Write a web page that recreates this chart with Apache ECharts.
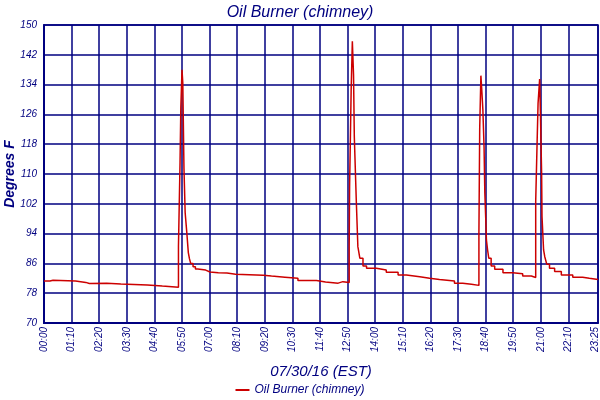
<!DOCTYPE html>
<html>
<head>
<meta charset="utf-8">
<script src="https://cdn.jsdelivr.net/npm/echarts@6/dist/echarts.min.js"></script>
<style>
html,body{margin:0;padding:0;background:#fff;}
#chart{width:600px;height:400px;}
</style>
</head>
<body>
<div id="chart"></div>
<script>
// time in minutes after midnight
var times = [0,15,23,80,106,115,159,195,262,300,341,345,347,350,352,355,358,362,366,369,372,378,384,390,410,421,442,464,486,556,577,611,644,691,714,746,758,
  774,775,779,782,785,787,792,796,801,809,818,843,868,898,919,953,978,1003,1041,1062,1084,
  1103,1105,1108,1110,1113,1116,1118,1121,1122,1125,1128,1134,1143,1164,1189,1214,1236,
  1247,1250,1253,1257,1259,1262,1263,1267,1270,1275,1282,1295,1312,1341,1366,1383,1405];
var temps = [81.3,81.5,81.3,80.9,80.6,80.7,80.5,80.2,79.9,79.6,90.7,113,127.7,138,134.5,111.4,99.6,94.5,88.9,87.2,86,85.1,84.5,84.2,83.7,83.5,83.4,83.1,82.8,82.6,82.3,82.0,81.4,81.0,80.7,81.1,80.9,
  90.5,106.6,132.6,145.6,136.7,120,102.8,90.5,87.4,85.3,84.7,84.2,83.6,82.9,82.4,82.0,81.7,81.3,80.7,80.4,80.1,
  94.1,122.3,136.4,133,127.3,117.4,104.9,95.9,92.3,89.6,87.4,85.3,84.4,83.5,83.2,82.6,82.2,
  102.6,116,129,135.5,126.4,110.2,98.6,89.6,87.8,85.8,84.7,83.8,82.9,82.3,82.0,81.7,81.7];
var xTickValues = [0,70,140,210,280,350,420,490,560,630,700,770,840,910,980,1050,1120,1190,1260,1330,1405];
var xTickLabels = ['00:00','01:10','02:20','03:30','04:40','05:50','07:00','08:10','09:20','10:30','11:40','12:50','14:00','15:10','16:20','17:30','18:40','19:50','21:00','22:10','23:25'];
var yTicks = [70,78,86,94,102,110,118,126,134,142,150];
var seriesName = 'Oil Burner (chimney)';

var navy = '#000080';
var fontFam = '"Liberation Sans", "DejaVu Sans", sans-serif';
var data = times.map(function(t,i){return [t,temps[i]];});

var chart = echarts.init(document.getElementById('chart'), null, {renderer:'canvas'});
chart.setOption({
  animation:false,
  backgroundColor:'#ffffff',
  title:{
    text:'Oil Burner (chimney)', left:'center', top:0,
    textStyle:{color:navy, fontStyle:'italic', fontWeight:'normal', fontSize:16, fontFamily:fontFam}
  },
  legend:{
    data:[seriesName], bottom:-1, left:'center',
    icon:'rect', itemWidth:14, itemHeight:2,
    textStyle:{color:navy, fontStyle:'italic', fontSize:12, fontFamily:fontFam}
  },
  grid:{left:44, right:2, top:25, bottom:77, containLabel:false, outerBoundsMode:'none',
    show:true, borderColor:navy, borderWidth:1.5},
  xAxis:{
    type:'value', min:0, max:1405,
    name:'07/30/16 (EST)', nameLocation:'middle', nameGap:41, nameMoveOverlap:false,
    nameTextStyle:{color:navy, fontStyle:'italic', fontSize:15, fontFamily:fontFam},
    axisLine:{show:true, lineStyle:{color:navy, width:2}},
    axisTick:{show:false, customValues:xTickValues},
    axisLabel:{
      customValues:xTickValues, rotate:90, color:navy, fontStyle:'italic', fontSize:10, fontFamily:fontFam, margin:4,
      formatter:function(v){
        var i=xTickValues.indexOf(v);
        if(i<0) return '';
        return i===xTickValues.length-1 ? '{last|'+xTickLabels[i]+'}' : xTickLabels[i];
      },
      rich:{last:{color:navy, fontStyle:'italic', fontSize:10, fontFamily:fontFam, padding:[0,0,5,0]}}
    },
    splitLine:{show:true, lineStyle:{color:navy, width:1.5}}
  },
  yAxis:{
    type:'value', min:yTicks[0], max:yTicks[yTicks.length-1], interval:8,
    name:'Degrees F', nameLocation:'middle', nameGap:27, nameRotate:90, nameMoveOverlap:false,
    nameTextStyle:{color:navy, fontStyle:'italic', fontWeight:'bold', fontSize:14, fontFamily:fontFam},
    axisLine:{show:true, lineStyle:{color:navy, width:2}},
    axisTick:{show:false},
    axisLabel:{color:navy, fontStyle:'italic', fontSize:10, fontFamily:fontFam, margin:7},
    splitLine:{show:true, lineStyle:{color:navy, width:1.5}}
  },
  series:[{
    name:seriesName, type:'line', data:data, step:'end',
    showSymbol:false, symbol:'none',
    lineStyle:{color:'#cc0000', width:1.5},
    itemStyle:{color:'#cc0000'}
  }]
});
</script>
</body>
</html>
